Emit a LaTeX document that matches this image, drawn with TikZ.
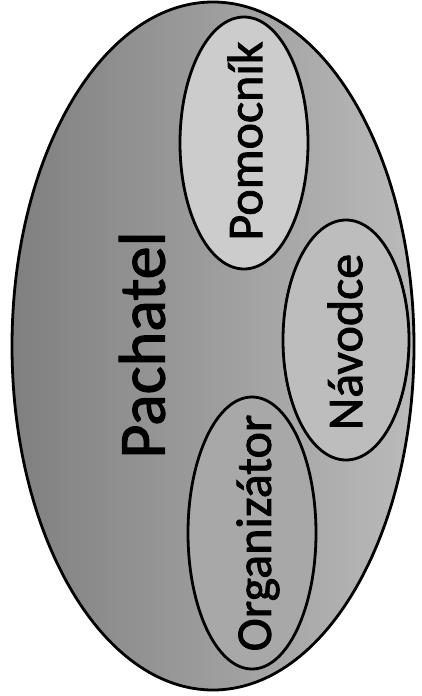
\documentclass[tikz,border=0pt]{standalone}
\usepackage{fontspec}
\setmainfont{Carlito}[FakeBold=1.6]
\usetikzlibrary{shapes.geometric}
\begin{document}
\begin{tikzpicture}[x=1pt,y=-1pt,
  ring/.style={ellipse, draw=black, line width=2.8pt, inner sep=0pt},
  biglbl/.style={rotate=90, font=\fontsize{66}{66}\selectfont, inner sep=0pt},
  lbl/.style={rotate=90, font=\fontsize{50}{50}\selectfont, inner sep=0pt},
]
\useasboundingbox[fill=white] (0,0) rectangle (422,696);
\node[ring, minimum width=402pt, minimum height=688pt, left color=black!50, right color=black!27] (outer) at (213,346) {};
\node[ring, minimum width=128pt, minimum height=252pt, fill=black!20] (pomring) at (244,143) {};
\node[ring, minimum width=126pt, minimum height=240pt, fill=black!26] (navring) at (346,340) {};
\node[ring, minimum width=128pt, minimum height=272pt, fill=black!34] (orgring) at (252,533) {};
\node[biglbl] (pachatel) at (142,345) {Pachatel};
\node[lbl] (pomocnik) at (245,141) {Pomocník};
\node[lbl] (navodce) at (345,342) {Návodce};
\node[lbl] (organizator) at (258,533) {Organizátor};
\end{tikzpicture}
\end{document}
